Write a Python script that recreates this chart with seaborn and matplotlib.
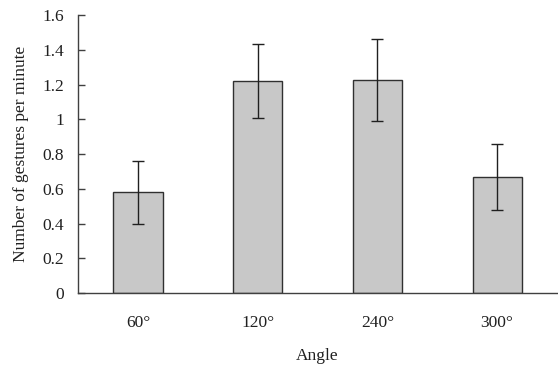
import matplotlib
matplotlib.use("Agg")
import matplotlib.pyplot as plt
import seaborn as sns
import pandas as pd
import numpy as np

angles = ["60°", "120°", "240°", "300°"]
means = [0.58, 1.22, 1.225, 0.67]
errors = [0.18, 0.215, 0.235, 0.19]

df = pd.DataFrame({"Angle": angles, "Gestures": means})

sns.set_style("white")
plt.rcParams['font.family'] = ['Liberation Serif', 'DejaVu Serif']

fig = plt.figure(figsize=(5.58, 3.66), dpi=100)
ax = fig.add_axes([0.14, 0.199, 0.858, 0.76])

sns.barplot(ax=ax, data=df, x="Angle", y="Gestures", color="#c8c8c8",
            saturation=1, width=0.41, edgecolor="#303030", linewidth=1.0,
            errorbar=None)
ax.errorbar(np.arange(len(angles)), means, yerr=errors, fmt="none",
            ecolor="#202020", elinewidth=1.0, capsize=4, capthick=1.0)

ax.set_xlim(-0.5, len(angles) - 0.5)
ax.set_ylim(0, 1.6)
ax.set_yticks(np.arange(0, 1.61, 0.2))
ax.set_yticklabels(["0", "0.2", "0.4", "0.6", "0.8", "1", "1.2", "1.4", "1.6"])
ax.set_xticks(np.arange(-0.5, len(angles)), minor=True)

for side in ["top", "right"]:
    ax.spines[side].set_visible(False)
for side in ["left", "bottom"]:
    ax.spines[side].set_color("#404040")
    ax.spines[side].set_linewidth(1.0)

ax.tick_params(axis="x", which="major", length=0, pad=16, labelsize=12.5, colors="#202020")
ax.tick_params(axis="x", which="minor", direction="in", length=5, width=1, color="#404040")
ax.tick_params(axis="y", direction="in", length=5, width=1, color="#404040",
               pad=10, labelsize=12.5, labelcolor="#202020", left=True)

ax.set_xlabel("Angle", fontsize=12.5, labelpad=12, color="#202020")
ax.set_ylabel("Number of gestures per minute", fontsize=12.5, labelpad=10, color="#202020")

fig.savefig("out.png", dpi=100)
